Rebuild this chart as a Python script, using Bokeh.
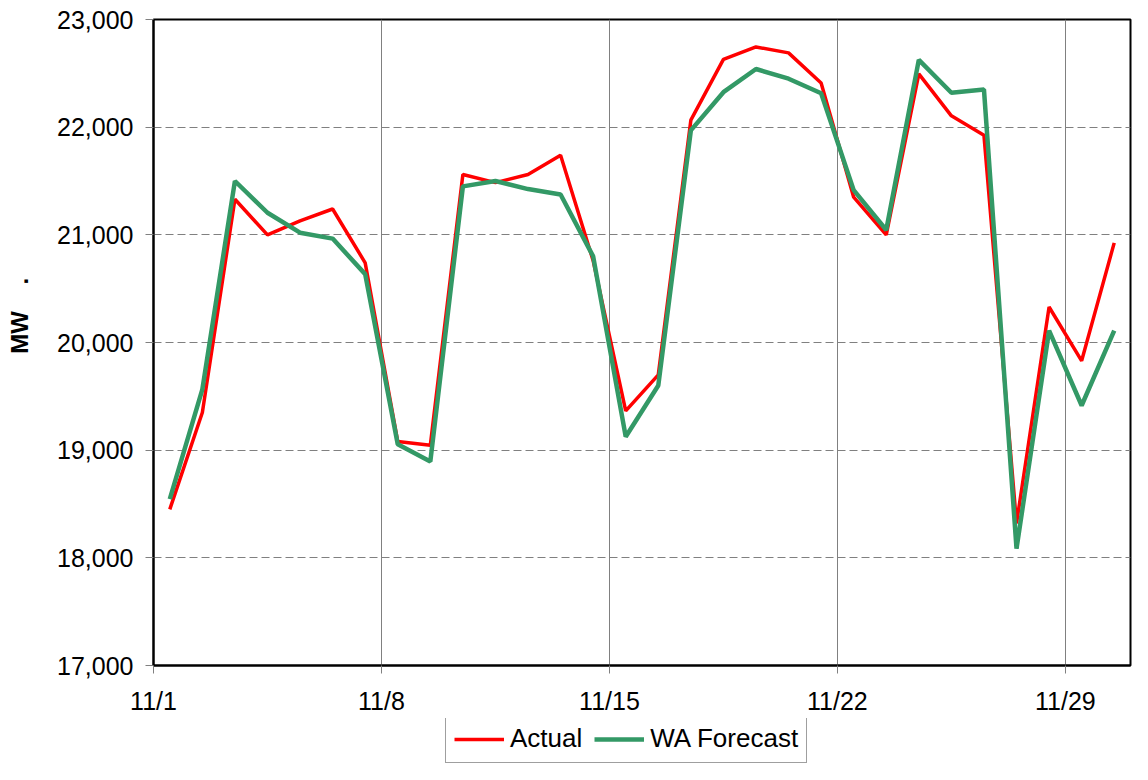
from bokeh.plotting import figure
from bokeh.layouts import column
from bokeh.models import (Range1d, FixedTicker, NumeralTickFormatter, Legend,
                          LegendItem, ColumnDataSource)
from bokeh.embed import file_html
from bokeh.resources import INLINE

# ---- data -------------------------------------------------------------
dates = [f"11/{d}" for d in range(1, 31)]
actual = [18450, 19350, 21330, 21000, 21130, 21240, 20740, 19080, 19045, 21560,
          21485, 21560, 21740, 20760, 19365, 19700, 22065, 22630, 22745, 22690,
          22410, 21350, 21000, 22495, 22105, 21925, 18320, 20330, 19830, 20925]
forecast = [18545, 19565, 21500, 21205, 21020, 20965, 20635, 19055, 18895, 21450,
            21500, 21425, 21375, 20800, 19125, 19600, 21970, 22325, 22540, 22450,
            22315, 21415, 21045, 22625, 22320, 22350, 18085, 20110, 19415, 20110]
tick_labels = ["11/1", "11/8", "11/15", "11/22", "11/29"]
y_ticks = [17000, 18000, 19000, 20000, 21000, 22000, 23000]
series_names = ["Actual", "WA Forecast"]
y_title = "MW"

# ---- styles -----------------------------------------------------------
FONT = "Liberation Sans"
NB = "\u00a0"
RED, GREEN = "#FF0000", "#339966"
x = [i + 1 for i in range(len(dates))]
src = ColumnDataSource(dict(x=x, actual=actual, forecast=forecast, date=dates))

# ---- main chart -------------------------------------------------------
p = figure(width=1132, height=718, output_backend="svg", toolbar_location=None,
           x_range=Range1d(0.5, len(dates) + 0.5),
           y_range=Range1d(y_ticks[0], y_ticks[-1]),
           min_border_left=153, min_border_right=2, min_border_top=19,
           min_border_bottom=53)
p.background_fill_color = "white"
p.border_fill_color = "white"
p.outline_line_color = "black"
p.outline_line_width = 2

tick_pos = [dates.index(t) + 0.5 for t in tick_labels]

xa = p.xaxis[0]
xa.ticker = FixedTicker(ticks=tick_pos)
xa.major_label_overrides = {tp: t for tp, t in zip(tick_pos, tick_labels)}
xa.minor_tick_line_color = None
xa.major_tick_in = 0
xa.major_tick_out = 8
xa.major_tick_line_color = "#808080"
xa.axis_line_color = "black"
xa.axis_line_width = 2
xa.major_label_text_font = FONT
xa.major_label_text_font_size = "25px"
xa.major_label_text_color = "black"
xa.major_label_standoff = 13

ya = p.yaxis[0]
ya.ticker = FixedTicker(ticks=y_ticks)
ya.formatter = NumeralTickFormatter(format="0,0")
ya.minor_tick_line_color = None
ya.major_tick_in = 0
ya.major_tick_out = 8
ya.major_tick_line_color = "#808080"
ya.axis_line_color = "black"
ya.axis_line_width = 2
ya.major_label_text_font = FONT
ya.major_label_text_font_size = "25px"
ya.major_label_text_color = "black"
ya.major_label_standoff = 12
ya.axis_label = NB * 8 + y_title + NB * 4 + "."
ya.axis_label_text_font = FONT
ya.axis_label_text_font_style = "bold"
ya.axis_label_text_font_size = "24px"
ya.axis_label_text_color = "black"
ya.axis_label_standoff = 21

p.xgrid.ticker = FixedTicker(ticks=tick_pos[1:])
p.xgrid.grid_line_color = "#808080"
p.xgrid.grid_line_width = 1
p.ygrid.ticker = FixedTicker(ticks=y_ticks[1:-1])
p.ygrid.grid_line_color = "#808080"
p.ygrid.grid_line_width = 1
p.ygrid.grid_line_dash = "8 4"

p.line("x", "actual", source=src, line_color=RED, line_width=3.5)
p.line("x", "forecast", source=src, line_color=GREEN, line_width=4.5)

# ---- legend strip below the chart -------------------------------------
lg = figure(width=1132, height=46, output_backend="svg", toolbar_location=None,
            x_range=Range1d(-2, -1), y_range=Range1d(0, 1),
            x_axis_location=None, y_axis_location=None,
            min_border_left=0, min_border_right=0, min_border_top=0,
            min_border_bottom=0)
lg.outline_line_color = None
lg.grid.visible = False
lg.background_fill_color = "white"
lg.border_fill_color = "white"
g1 = lg.line("x", "actual", source=src, line_color=RED, line_width=3.5)
g2 = lg.line("x", "forecast", source=src, line_color=GREEN, line_width=4.5)

legend = Legend(items=[LegendItem(label=series_names[0], renderers=[g1]),
                       LegendItem(label=series_names[1], renderers=[g2])],
                orientation="horizontal", location=(292, 1))
legend.label_text_font = FONT
legend.label_text_font_size = "26px"
legend.label_text_color = "black"
legend.glyph_width = 50
legend.glyph_height = 20
legend.label_standoff = 6
legend.spacing = 12
legend.padding = 8
legend.margin = 0
legend.border_line_color = "#404040"
legend.border_line_width = 1
legend.background_fill_color = "white"
legend.background_fill_alpha = 1
lg.add_layout(legend)

layout = column(p, lg, spacing=0)
open("out.html", "w").write(file_html(layout, INLINE))
